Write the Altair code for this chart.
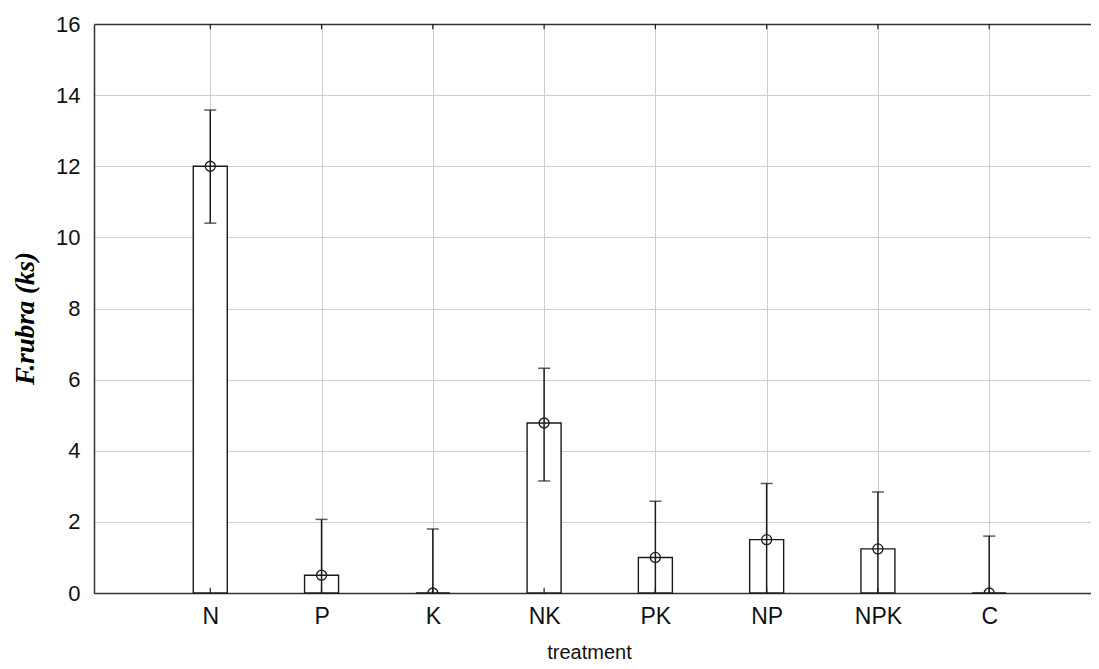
import altair as alt
import pandas as pd

categories = ["N", "P", "K", "NK", "PK", "NP", "NPK", "C"]
means = [12.0, 0.5, 0.0, 4.78, 1.0, 1.5, 1.24, 0.0]
upper = [13.58, 2.07, 1.8, 6.32, 2.58, 3.08, 2.84, 1.6]
lower = [10.4, 0.0, 0.0, 3.15, 0.0, 0.0, 0.0, 0.0]
y_ticks = [0, 2, 4, 6, 8, 10, 12, 14, 16]

df = pd.DataFrame({
    "cat": categories,
    "pos": list(range(1, len(categories) + 1)),
    "mean": means,
    "upper": upper,
    "lower": lower,
})

label_expr = "[" + ",".join("'" + c + "'" for c in categories) + "][datum.value - 1]"

x_scale = alt.Scale(domain=[0, 8.87], nice=False, zero=False)
y_scale = alt.Scale(domain=[0, 16], nice=False)

INK = "#1a1a1a"
GRID = "#cfcfcf"
base = alt.Chart(df)

x_axis = alt.Axis(
    orient="bottom", values=list(range(1, 9)), labelExpr=label_expr,
    title="treatment", grid=True, gridColor=GRID, gridWidth=1,
    ticks=False, tickSize=0, domainColor="#333333", domainWidth=1.5,
    labelFont="Liberation Sans", labelFontSize=23, labelColor="#111111",
    labelPadding=12, labelFlush=False,
    titleFont="Liberation Sans", titleFontSize=20, titleFontWeight="normal",
    titleColor="#111111", titleX=495, titleY=65, titleAlign="center",
    titleBaseline="alphabetic",
)
y_axis = alt.Axis(
    values=y_ticks, grid=True, gridColor=GRID, gridWidth=1,
    ticks=False, tickSize=0, domainColor="#333333", domainWidth=1.5,
    labelFont="Liberation Sans", labelFontSize=22, labelColor="#111111",
    labelPadding=14, labelFlush=False,
    title="F.rubra (ks)", titleFont="Liberation Serif", titleFontSize=27,
    titleFontStyle="italic", titleFontWeight="bold", titleColor="#000000",
    titleAngle=270, titleX=-69, titleY=294, titleAlign="center",
    titleBaseline="middle",
)

Y_MEAN = alt.Y("mean:Q", scale=y_scale, axis=y_axis)

bars = base.mark_bar(size=34, fill="white", stroke=INK, strokeWidth=1.4).encode(
    x=alt.X("pos:Q", scale=x_scale, axis=x_axis),
    y=Y_MEAN,
)

top_frame = base.mark_point(opacity=0).encode(
    x=alt.X("pos:Q", scale=x_scale,
            axis=alt.Axis(orient="top", labels=False, ticks=False, tickSize=0,
                          grid=False, title=None, domainColor="#333333",
                          domainWidth=1.5)),
    y=Y_MEAN,
)

bottom_ticks = base.mark_rule(color=INK, strokeWidth=1.2).encode(
    x=alt.X("pos:Q", scale=x_scale, axis=None),
    y=alt.datum(0, scale=y_scale),
    y2=alt.datum(0.15),
)
top_ticks = base.mark_rule(color=INK, strokeWidth=1.2).encode(
    x=alt.X("pos:Q", scale=x_scale, axis=None),
    y=alt.datum(16, scale=y_scale),
    y2=alt.datum(15.85),
)

whisk = base.mark_rule(color=INK, strokeWidth=1.5).encode(
    x=alt.X("pos:Q", scale=x_scale, axis=None),
    y=alt.Y("lower:Q", scale=y_scale, axis=y_axis),
    y2="upper:Q",
)
cap_up = base.mark_tick(orient="horizontal", size=12, thickness=1.5, color=INK).encode(
    x=alt.X("pos:Q", scale=x_scale, axis=None),
    y=alt.Y("upper:Q", scale=y_scale, axis=y_axis),
)
cap_lo = base.transform_filter("datum.lower > 0").mark_tick(
    orient="horizontal", size=12, thickness=1.5, color=INK).encode(
    x=alt.X("pos:Q", scale=x_scale, axis=None),
    y=alt.Y("lower:Q", scale=y_scale, axis=y_axis),
)
points = base.mark_point(shape="circle", filled=False, size=100, stroke=INK,
                         strokeWidth=1.3, clip=True, opacity=1).encode(
    x=alt.X("pos:Q", scale=x_scale, axis=None),
    y=Y_MEAN,
)

chart = alt.layer(
    bars, top_frame, bottom_ticks, top_ticks, whisk, cap_up, cap_lo, points
).resolve_axis(x="independent").properties(
    width=997, height=569,
    autosize=alt.AutoSizeParams(type="none"),
    padding={"left": 86, "top": 16, "right": 0, "bottom": 68},
    background="white",
).configure_view(stroke=None)

chart.save("out.html", embed_options={"renderer": "svg", "actions": False})
